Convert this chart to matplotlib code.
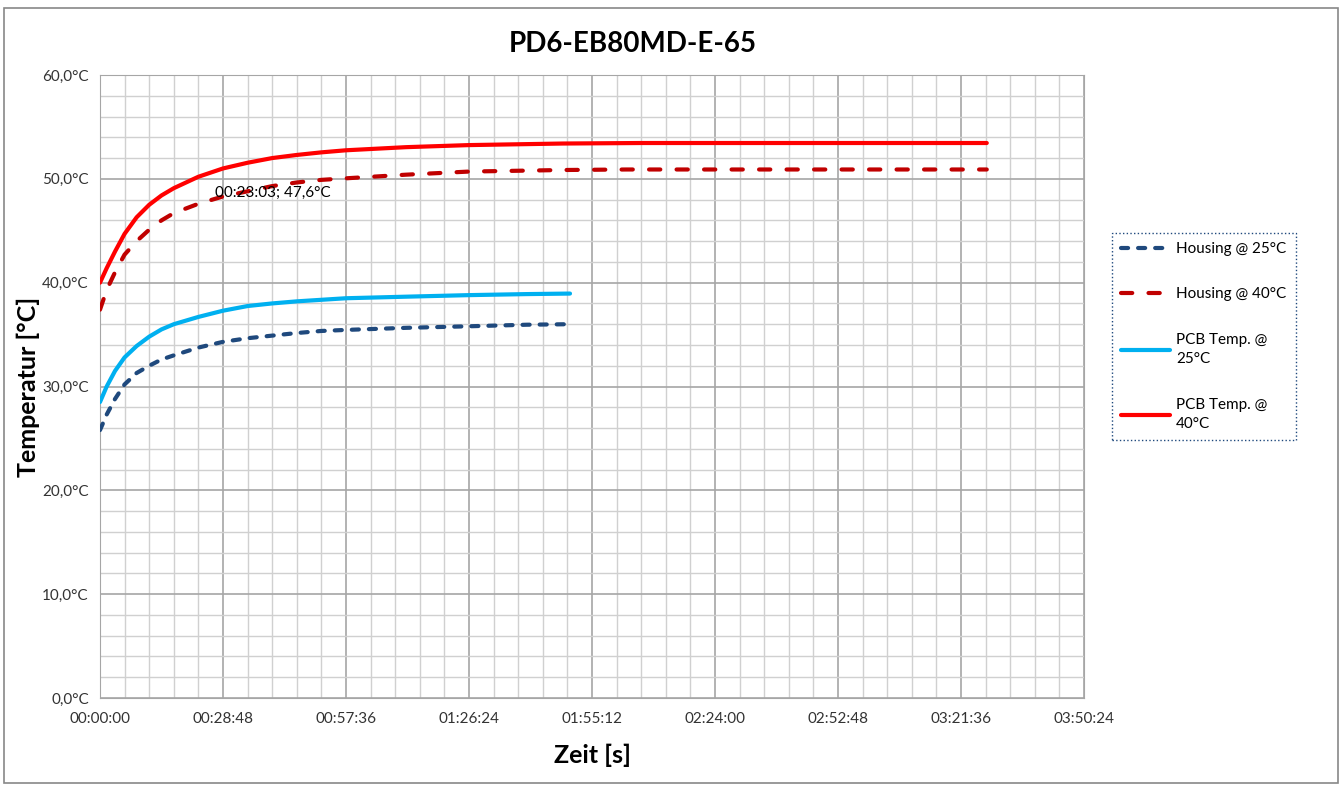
import matplotlib
matplotlib.use('Agg')
import matplotlib.pyplot as plt
from matplotlib.ticker import FuncFormatter, MultipleLocator
from matplotlib.patches import Rectangle

plt.rcParams['font.family'] = ['Lato', 'DejaVu Sans']

# time in seconds, temperature in degC
t_h25 = [0, 94, 211, 345, 515, 691, 864, 1037, 1382, 1728, 2074, 2419, 2765, 3110, 3456, 4300, 5184, 6000, 6603]
housing_25 = [25.8, 27.3, 28.8, 30.2, 31.3, 32.0, 32.6, 33.0, 33.75, 34.3, 34.65, 34.9, 35.15, 35.35, 35.45, 35.65, 35.8, 35.95, 36.0]

t_h40 = [0, 94, 211, 345, 515, 691, 864, 1037, 1383, 1728, 2074, 2419, 2765, 3110, 3456, 4300, 5184, 6500, 7400, 9000, 11000, 12458]
housing_40 = [37.4, 39.3, 41.0, 42.7, 44.0, 45.1, 46.0, 46.7, 47.6, 48.3, 48.8, 49.3, 49.65, 49.9, 50.05, 50.4, 50.7, 50.85, 50.9, 50.9, 50.9, 50.9]

t_p25 = [0, 94, 211, 345, 515, 691, 864, 1037, 1382, 1728, 2074, 2419, 2765, 3110, 3456, 4300, 5184, 6000, 6603]
pcb_25 = [28.5, 30.0, 31.5, 32.8, 33.9, 34.8, 35.5, 36.0, 36.7, 37.3, 37.75, 38.0, 38.2, 38.35, 38.5, 38.65, 38.8, 38.9, 38.95]

t_p40 = [0, 94, 211, 345, 515, 691, 864, 1037, 1382, 1728, 2074, 2419, 2765, 3110, 3456, 4300, 5184, 6500, 7600, 9000, 11000, 12458]
pcb_40 = [40.0, 41.4, 43.0, 44.7, 46.3, 47.5, 48.4, 49.1, 50.2, 51.0, 51.55, 52.0, 52.3, 52.55, 52.75, 53.05, 53.25, 53.4, 53.45, 53.45, 53.45, 53.45]

label_t = 1383
label_v = 47.6


def hms(x, pos):
    x = int(round(x))
    return '%02d:%02d:%02d' % (x // 3600, (x % 3600) // 60, x % 60)


def deg(y, pos):
    return ('%.1f' % y).replace('.', ',') + '°C'


fig = plt.figure(figsize=(13.43, 7.85), dpi=100)
ax = fig.add_axes([100 / 1343, 1 - 698 / 785, 984 / 1343, 623 / 785])

lw = 3.0
ax.plot(t_h25, housing_25, color='#1F497D', lw=lw, ls=(0, (1.7, 2.4)),
        dash_capstyle='round', label='Housing @ 25°C', zorder=3)
ax.plot(t_h40, housing_40, color='#C00000', lw=lw, ls=(0, (2.7, 3.9)),
        dash_capstyle='round', label='Housing @ 40°C', zorder=3)
ax.plot(t_p25, pcb_25, color='#00B0F0', lw=lw, label='PCB Temp. @\n25°C',
        solid_capstyle='round', solid_joinstyle='round', zorder=3)
ax.plot(t_p40, pcb_40, color='#FF0000', lw=lw, label='PCB Temp. @\n40°C',
        solid_capstyle='round', solid_joinstyle='round', zorder=3)

ax.annotate('00:23:03; 47,6°C', xy=(label_t, label_v), xytext=(12, 8),
            textcoords='offset points', fontsize=11, va='center', ha='left',
            zorder=4)

ax.set_xlim(0, 13824)
ax.set_ylim(0, 60)
ax.xaxis.set_major_locator(MultipleLocator(1728))
ax.xaxis.set_minor_locator(MultipleLocator(345.6))
ax.yaxis.set_major_locator(MultipleLocator(10))
ax.yaxis.set_minor_locator(MultipleLocator(2))
ax.xaxis.set_major_formatter(FuncFormatter(hms))
ax.yaxis.set_major_formatter(FuncFormatter(deg))
ax.grid(which='major', color='#A6A6A6', lw=1.2, zorder=0)
ax.grid(which='minor', color='#D0D0D0', lw=1.0, zorder=0)
ax.set_axisbelow(True)
ax.tick_params(which='both', length=0, labelsize=11, colors='#333333')
ax.tick_params(axis='x', pad=10)
ax.tick_params(axis='y', pad=8)
for s in ax.spines.values():
    s.set_color('#A6A6A6')

ax.set_xlabel('Zeit [s]', fontsize=18, fontweight='bold')
ax.set_ylabel('Temperatur [°C]', fontsize=18, fontweight='bold')
ax.xaxis.label.set_va('center')
ax.yaxis.label.set_va('center')
ax.xaxis.set_label_coords(0.5, (698 - 755) / 623)
ax.yaxis.set_label_coords((28 - 100) / 984, 0.5)
fig.text(633 / 1343, 1 - 44 / 785, 'PD6-EB80MD-E-65', fontsize=20,
         fontweight='bold', ha='center', va='center')

leg = fig.legend(loc='upper left', bbox_to_anchor=(1112 / 1343, 1 - 233 / 785),
                 borderaxespad=0, fontsize=11, handlelength=3.2,
                 labelspacing=2.05, handletextpad=0.4, borderpad=0.6,
                 fancybox=False, framealpha=1)
for txt in leg.get_texts():
    txt.set_linespacing(1.5)
leg.get_frame().set_edgecolor('#1F497D')
leg.get_frame().set_linestyle(':')
leg.get_frame().set_linewidth(1.0)

fig.patches.append(Rectangle((4 / 1343, 2 / 785), 1334 / 1343, 775 / 785,
                             transform=fig.transFigure, fill=False,
                             edgecolor='#888888', lw=1.2))

fig.savefig('out.png', dpi=100)
